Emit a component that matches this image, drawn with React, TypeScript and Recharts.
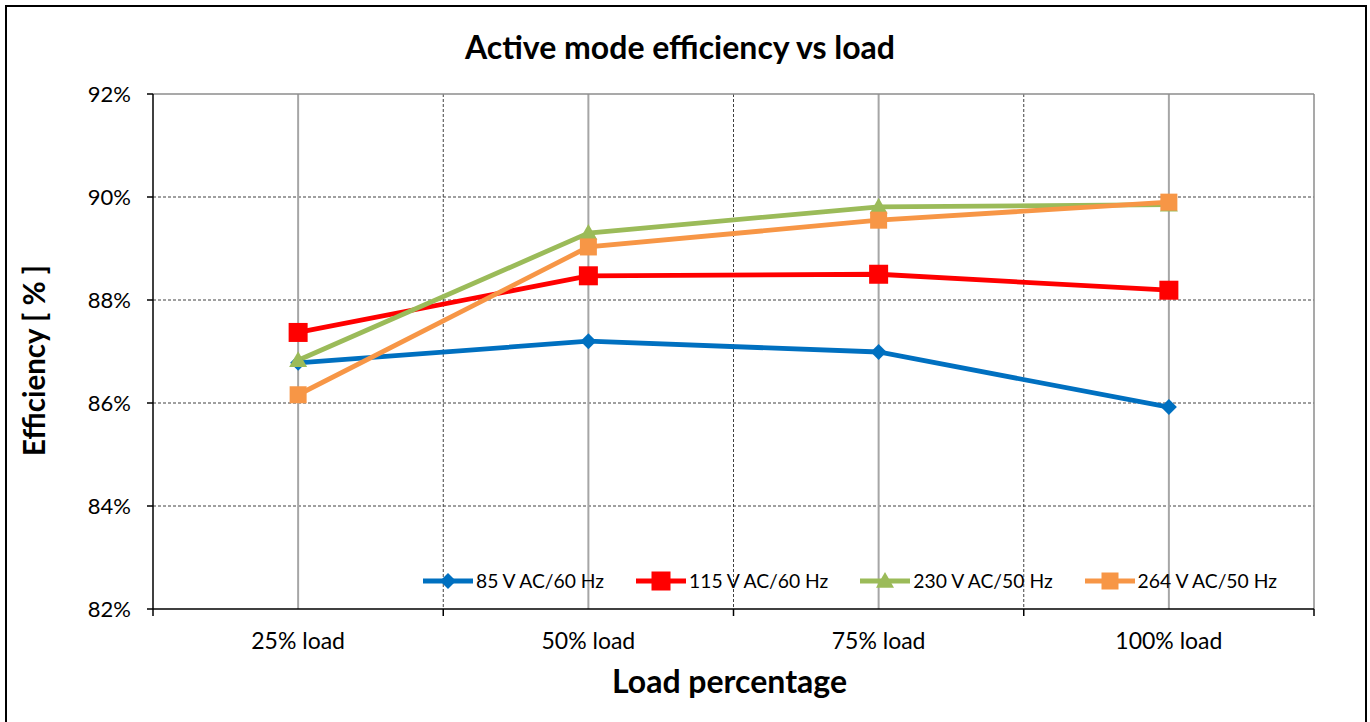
import {
  LineChart,
  Line,
  XAxis,
  YAxis,
  CartesianGrid,
  ReferenceLine,
  Legend,
  Label,
} from "recharts";

const categories = ["25% load", "50% load", "75% load", "100% load"];
const eff85 = [86.78, 87.2, 86.99, 85.92];
const eff115 = [87.37, 88.47, 88.5, 88.19];
const eff230 = [86.83, 89.3, 89.81, 89.85];
const eff264 = [86.16, 89.03, 89.55, 89.9];
const yTicks = [82, 84, 86, 88, 90, 92];

const FONT = "Lato, 'Open Sans', sans-serif";

const series = [
  { key: "v85", name: "85 V AC/60 Hz", color: "#0070C0", marker: "diamond" },
  { key: "v115", name: "115 V AC/60 Hz", color: "#FF0000", marker: "bigsquare" },
  { key: "v230", name: "230 V AC/50 Hz", color: "#9BBB59", marker: "triangle" },
  { key: "v264", name: "264 V AC/50 Hz", color: "#F79646", marker: "square" },
];

const data = categories.map((load, i) => ({
  x: i,
  load,
  v85: eff85[i],
  v115: eff115[i],
  v230: eff230[i],
  v264: eff264[i],
}));

const centers = categories.map((_, i) => i);
const bounds = [...categories.map((_, i) => i - 0.5), categories.length - 0.5];
const xTicks = [...centers, ...bounds].sort((a, b) => a - b);

function Marker({ cx, cy, kind, fill }: { cx: number; cy: number; kind: string; fill: string }) {
  if (kind === "diamond") {
    const s = 8;
    return <path d={`M${cx},${cy - s} L${cx + s},${cy} L${cx},${cy + s} L${cx - s},${cy} Z`} fill={fill} />;
  }
  if (kind === "triangle") {
    const s = 9;
    return <path d={`M${cx},${cy - s} L${cx + s},${cy + s * 0.75} L${cx - s},${cy + s * 0.75} Z`} fill={fill} />;
  }
  const s = kind === "bigsquare" ? 9.5 : 8.5;
  return <rect x={cx - s} y={cy - s} width={s * 2} height={s * 2} fill={fill} />;
}

const XTick = (props: any) => {
  const { x, y, payload } = props;
  const v = payload.value;
  if (Number.isInteger(v)) {
    return (
      <text x={x} y={y + 40} textAnchor="middle" fontSize={23} fontFamily={FONT} fill="#000">
        {categories[v]}
      </text>
    );
  }
  return <line x1={x} x2={x} y1={y} y2={y + 7} stroke="#000" strokeWidth={1.5} />;
};

const LegendContent = (props: any) => {
  const items = props.payload || [];
  const shown = series.filter((s) => items.some((it: any) => it.dataKey === s.key));
  return (
    <div style={{ display: "flex", alignItems: "center", fontFamily: FONT, fontSize: 19.3, color: "#000" }}>
      {shown.map((s) => (
        <div key={s.key} style={{ display: "flex", alignItems: "center", marginRight: 32 }}>
          <svg width={50} height={22}>
            <line x1={0} x2={50} y1={11} y2={11} stroke={s.color} strokeWidth={4.8} />
            <Marker cx={25} cy={11} kind={s.marker} fill={s.color} />
          </svg>
          <span style={{ marginLeft: 3 }}>{s.name}</span>
        </div>
      ))}
    </div>
  );
};

export default function App() {
  return (
    <div style={{ position: "fixed", left: 0, top: 0, width: 1370, height: 722, overflow: "hidden", background: "#fff" }}>
      <div
        style={{
          position: "absolute",
          left: 5,
          top: 5,
          width: 1358,
          height: 740,
          border: "2px solid #000",
        }}
      />
      <div
        style={{
          position: "absolute",
          left: 0,
          top: 28,
          width: 1360,
          textAlign: "center",
          fontFamily: FONT,
          fontWeight: 700,
          fontSize: 32,
          lineHeight: "38px",
          color: "#000",
        }}
      >
        Active mode efficiency vs load
      </div>
      <div style={{ position: "absolute", left: 0, top: 0 }}>
        <LineChart width={1370} height={722} data={data} margin={{ top: 94, right: 56, bottom: 0, left: 0 }}>
          <CartesianGrid
            horizontal
            vertical
            horizontalValues={[84, 86, 88, 90]}
            verticalValues={[0.5, 1.5, 2.5]}
            stroke="#404040"
            strokeDasharray="3 2"
          />
          {centers.map((c) => (
            <ReferenceLine key={`c${c}`} x={c} stroke="#a6a6a6" strokeWidth={2} />
          ))}
          <ReferenceLine y={92} stroke="#8c8c8c" strokeWidth={1.5} />
          <ReferenceLine x={categories.length - 0.5} stroke="#8c8c8c" strokeWidth={1.5} />
          <XAxis
            dataKey="x"
            type="number"
            domain={[-0.5, categories.length - 0.5]}
            ticks={xTicks}
            interval={0}
            height={113}
            tickSize={0}
            tickMargin={0}
            tickLine={false}
            axisLine={{ stroke: "#000", strokeWidth: 1.5 }}
            tick={<XTick />}
          >
            <Label
              content={(p: any) => {
                const vb = p.viewBox;
                return (
                  <text
                    x={vb.x + vb.width / 2 - 4}
                    y={vb.y + 84}
                    textAnchor="middle"
                    fontFamily={FONT}
                    fontWeight={700}
                    fontSize={32}
                    fill="#000"
                  >
                    Load percentage
                  </text>
                );
              }}
            />
          </XAxis>
          <YAxis
            type="number"
            domain={[82, 92]}
            ticks={yTicks}
            interval={0}
            width={153}
            tickSize={6}
            tickMargin={16}
            tickFormatter={(v: number) => `${v}%`}
            tick={{ fontSize: 22, fontFamily: FONT, fill: "#000" }}
            axisLine={{ stroke: "#000", strokeWidth: 1.5 }}
            tickLine={{ stroke: "#000", strokeWidth: 1.5 }}
          >
            <Label
              content={(p: any) => {
                const vb = p.viewBox;
                const cx = vb.x + 45;
                const cy = vb.y + vb.height / 2 + 9;
                return (
                  <text
                    transform={`translate(${cx},${cy}) rotate(-90)`}
                    textAnchor="middle"
                    fontFamily={FONT}
                    fontWeight={700}
                    fontSize={29.5}
                    fill="#000"
                  >
                    Efficiency [ % ]
                  </text>
                );
              }}
            />
          </YAxis>
          <Legend
            layout="horizontal"
            verticalAlign="middle"
            align="center"
            wrapperStyle={{ left: 423, top: 569, width: 920 }}
            content={<LegendContent />}
          />
          {series.map((s) => (
            <Line
              key={s.key}
              type="linear"
              dataKey={s.key}
              name={s.name}
              stroke={s.color}
              strokeWidth={4.8}
              isAnimationActive={false}
              dot={(p: any) => <Marker key={`${s.key}-${p.index}`} cx={p.cx} cy={p.cy} kind={s.marker} fill={s.color} />}
              activeDot={false}
            />
          ))}
        </LineChart>
      </div>
    </div>
  );
}
